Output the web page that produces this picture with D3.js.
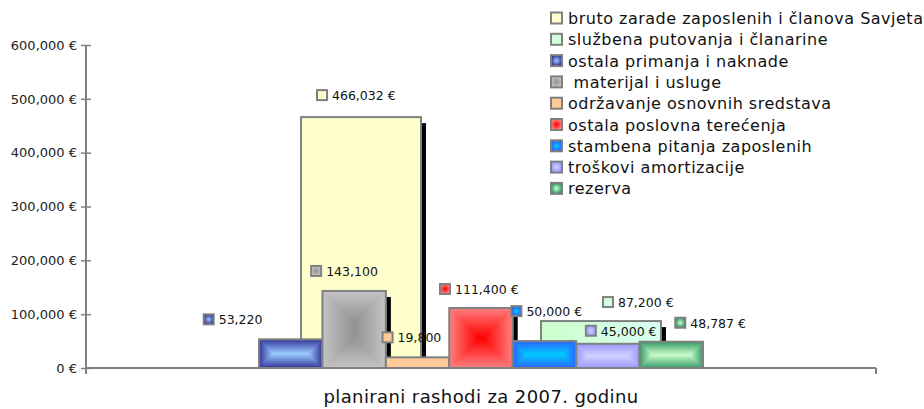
<!DOCTYPE html>
<html>
<head>
<meta charset="utf-8">
<script src="https://cdn.jsdelivr.net/npm/d3@7"></script>
<style>
	body { margin: 0; background: #fff; }
	svg { display: block; font-family: "DejaVu Sans", sans-serif; }
</style>
</head>
<body>
<script>
// chart data
const categories = ['planirani rashodi za 2007. godinu'];
const seriesNames = [
	'bruto zarade zaposlenih i članova Savjeta',
	'službena putovanja i članarine',
	'ostala primanja i naknade',
	' materijal i usluge',
	'održavanje osnovnih sredstava',
	'ostala poslovna terećenja',
	'stambena pitanja zaposlenih',
	'troškovi amortizacije',
	'rezerva'
];
const seriesValues = [466032, 87200, 53220, 143100, 19800, 111400, 50000, 45000, 48787];
const seriesGroup = ['primary', 'primary', 'secondary', 'secondary', 'secondary', 'secondary', 'secondary', 'secondary', 'secondary'];
const labelTexts = ['466,032 €', '87,200 €', '53,220', '143,100', '19,800', '111,400 €', '50,000 €', '45,000 €', '48,787 €'];
const yTicks = [0, 100000, 200000, 300000, 400000, 500000, 600000];

// look of each series (same order as the names)
const seriesStyle = [
	{ edge: '#ffffcc', center: '#ffffcc', shadow: true },
	{ edge: '#ccffcc', center: '#d9fff4', shadow: true, linear: true },
	{ edge: '#333399', center: '#99ccff' },
	{ edge: '#c4c4c4', center: '#929292', shadow: true },
	{ edge: '#ffcc99', center: '#ffcc99' },
	{ edge: '#ff8080', center: '#ff0000', shadow: true },
	{ edge: '#2a62ff', center: '#00ccff' },
	{ edge: '#9999ff', center: '#d0d0ff' },
	{ edge: '#339966', center: '#ccffcc' }
];
// label key offset from bar top centre
const labelOffsets = [[-44, -22], [2, -19], [-87, -20], [-43, -20], [-35, -20], [-41, -19], [-33, -30], [-22, -13], [4, -19]];

const width = 924, height = 409;
const margin = { left: 86, right: 48, top: 45, bottom: 41 };
const border = '#808080';
const font = '"DejaVu Sans", sans-serif';

let svg = d3.select('body').append('svg')
	.attr('width', width)
	.attr('height', height);
let defs = svg.append('defs');

let series = seriesNames.map((name, i) => ({
	name: name,
	value: seriesValues[i],
	group: seriesGroup[i],
	label: labelTexts[i],
	style: seriesStyle[i],
	offset: labelOffsets[i],
	index: i
}));

let x0 = d3.scaleBand()
	.domain(categories)
	.range([margin.left, width - margin.right]);

let catCenter = x0(categories[0]) + x0.bandwidth() / 2;
let primary = series.filter(s => s.group === 'primary');
let secondary = series.filter(s => s.group === 'secondary');

let xPrimary = d3.scaleBand()
	.domain(primary.map(s => s.name))
	.range([catCenter - 0.2278 * x0.bandwidth(), catCenter + 0.2278 * x0.bandwidth()])
	.paddingInner(0.5);
let xSecondary = d3.scaleBand()
	.domain(secondary.map(s => s.name))
	.range([catCenter - 0.281 * x0.bandwidth(), catCenter + 0.281 * x0.bandwidth()]);

let y = d3.scaleLinear()
	.domain([0, 600000])
	.range([height - margin.bottom, margin.top]);

series.forEach(s => {
	let sc = s.group === 'primary' ? xPrimary : xSecondary;
	s.x = sc(s.name);
	s.w = sc.bandwidth();
	s.y = y(s.value);
	s.h = y(0) - y(s.value);
});

// small gradient for the keys
series.forEach(s => {
	let g = defs.append('radialGradient').attr('id', 'key' + s.index);
	g.append('stop').attr('offset', '0%').attr('stop-color', s.style.center);
	g.append('stop').attr('offset', '100%').attr('stop-color', s.style.edge);
});

function lin(id, x1, y1, x2, y2, c1, c2) {
	let g = defs.append('linearGradient')
		.attr('id', id)
		.attr('gradientUnits', 'userSpaceOnUse')
		.attr('x1', x1).attr('y1', y1).attr('x2', x2).attr('y2', y2);
	g.append('stop').attr('offset', '0%').attr('stop-color', c1);
	g.append('stop').attr('offset', '100%').attr('stop-color', c2);
	return 'url(#' + id + ')';
}

function drawBar(g, s) {
	let { x, y: top, w, h, style } = s;
	if (style.shadow)
		g.append('rect')
			.attr('x', x + w)
			.attr('y', top + 6)
			.attr('width', 5)
			.attr('height', h - 6)
			.attr('fill', '#000');
	let bar = g.append('g');
	if (style.linear) {
		bar.append('rect')
			.attr('x', x).attr('y', top).attr('width', w).attr('height', h)
			.attr('fill', lin('lin' + s.index, x, 0, x + w, 0, style.edge, style.center));
	} else if (style.edge === style.center) {
		bar.append('rect')
			.attr('x', x).attr('y', top).attr('width', w).attr('height', h)
			.attr('fill', style.edge);
	} else {
		// rectangular gradient: four pieces, edge colour going in to the centre
		let d = Math.min(w, h) / 2;
		let x1 = x + w, y1 = top + h;
		let e = style.edge, c = style.center;
		bar.append('rect')
			.attr('x', x).attr('y', top).attr('width', w).attr('height', h)
			.attr('fill', d3.interpolateRgb(e, c)(0.5));
		let parts = [
			{ pts: [[x, top], [x1, top], [x1 - d, top + d], [x + d, top + d]], f: lin('gt' + s.index, 0, top, 0, top + d, e, c) },
			{ pts: [[x, y1], [x1, y1], [x1 - d, y1 - d], [x + d, y1 - d]], f: lin('gb' + s.index, 0, y1, 0, y1 - d, e, c) },
			{ pts: [[x, top], [x + d, top + d], [x + d, y1 - d], [x, y1]], f: lin('gl' + s.index, x, 0, x + d, 0, e, c) },
			{ pts: [[x1, top], [x1 - d, top + d], [x1 - d, y1 - d], [x1, y1]], f: lin('gr' + s.index, x1, 0, x1 - d, 0, e, c) }
		];
		for (let p of parts)
			bar.append('polygon')
				.attr('points', p.pts.map(q => q.join(',')).join(' '))
				.attr('fill', p.f)
				.attr('stroke', p.f)
				.attr('stroke-width', 0.6);
	}
	bar.append('rect')
		.attr('x', x).attr('y', top).attr('width', w).attr('height', h)
		.attr('fill', 'none')
		.attr('stroke', border)
		.attr('stroke-width', 2);
}

let bars = svg.append('g').attr('id', 'bars');
primary.forEach(s => drawBar(bars, s));
secondary.forEach(s => drawBar(bars, s));

// axes
let yAxis = svg.append('g')
	.attr('transform', `translate(${margin.left},0)`)
	.call(d3.axisLeft(y).tickValues(yTicks).tickSize(5).tickFormat(d => d3.format(',')(d) + ' €'))
	.attr('font-family', font)
	.attr('font-size', 13);
yAxis.select('.domain').remove();
yAxis.selectAll('.tick line').attr('x1', 5).attr('stroke', border).attr('stroke-width', 1.5);
yAxis.selectAll('.tick text')
	.attr('x', -9)
	.attr('fill', '#222');
yAxis.append('line')
	.attr('x1', 0).attr('x2', 0)
	.attr('y1', y(600000)).attr('y2', y(0))
	.attr('stroke', border).attr('stroke-width', 2);

let xAxis = svg.append('g').attr('transform', `translate(0,${y(0)})`);
xAxis.append('line')
	.attr('x1', margin.left).attr('x2', width - margin.right)
	.attr('stroke', border).attr('stroke-width', 2);
xAxis.selectAll('line.tick')
	.data(x0.range())
	.enter().append('line')
	.attr('class', 'tick')
	.attr('x1', d => d).attr('x2', d => d)
	.attr('y1', 0).attr('y2', 6)
	.attr('stroke', border).attr('stroke-width', 2);
xAxis.append('text')
	.attr('x', catCenter)
	.attr('y', 35)
	.attr('text-anchor', 'middle')
	.style('font-size', '18px')
	.style('letter-spacing', '0.4px')
	.attr('fill', '#111')
	.text(categories[0]);

// data labels
let labels = svg.append('g').attr('id', 'labels');
series.forEach(s => {
	let kx = s.x + s.w / 2 + s.offset[0];
	let ky = s.y + s.offset[1];
	labels.append('rect')
		.attr('x', kx).attr('y', ky - 5)
		.attr('width', 10).attr('height', 10)
		.attr('fill', 'url(#key' + s.index + ')')
		.attr('stroke', border).attr('stroke-width', 2);
	labels.append('text')
		.attr('x', kx + 15)
		.attr('y', ky + 5)
		.style('font-size', '12.5px')
		.attr('fill', '#111')
		.text(s.label);
});

// legend
let legend = svg.append('g').attr('transform', 'translate(551,18)');
let row = legend.selectAll('g')
	.data(series)
	.enter().append('g')
	.attr('transform', (d, i) => `translate(0,${i * 21.3})`);
row.append('rect')
	.attr('x', 0).attr('y', -5.5)
	.attr('width', 11).attr('height', 11)
	.attr('fill', d => 'url(#key' + d.index + ')')
	.attr('stroke', border).attr('stroke-width', 2);
row.append('text')
	.attr('x', 17)
	.attr('y', 6)
	.style('font-size', '16px')
	.style('letter-spacing', '0.5px')
	.attr('fill', '#111')
	.attr('xml:space', 'preserve')
	.text(d => d.name);
</script>
</body>
</html>
